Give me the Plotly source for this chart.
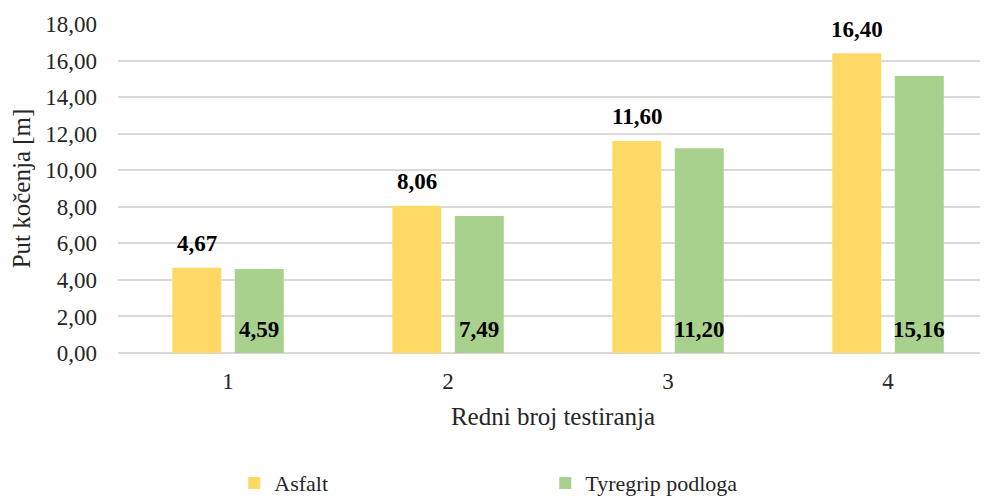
import plotly.graph_objects as go

categories = [1, 2, 3, 4]
asfalt = [4.67, 8.06, 11.60, 16.40]
tyregrip = [4.59, 7.49, 11.20, 15.16]
y_ticks = [0, 2, 4, 6, 8, 10, 12, 14, 16, 18]

YELLOW = "#FFD966"
GREEN = "#A9D18E"
FONT = "'Liberation Serif', 'Times New Roman', serif"

bargap = 0.432
bargroupgap = 0.216
offset = (1 - bargap) / 4

fig = go.Figure()
fig.add_trace(go.Bar(x=categories, y=asfalt, name="Asfalt", marker_color=YELLOW,
                     marker_line_width=0, hoverinfo="skip"))
fig.add_trace(go.Bar(x=categories, y=tyregrip, name="Tyregrip podloga", marker_color=GREEN,
                     marker_line_width=0, hoverinfo="skip"))

label_font = dict(family=FONT, size=23, color="#000000")
for c, v in zip(categories, asfalt):
    fig.add_annotation(x=c - offset, y=v, text="<b>" + f"{v:.2f}".replace(".", ",") + "</b>",
                       showarrow=False, yanchor="middle", yshift=24, font=label_font)
for c, v in zip(categories, tyregrip):
    fig.add_annotation(x=c + offset, y=0, text="<b>" + f"{v:.2f}".replace(".", ",") + "</b>",
                       showarrow=False, yanchor="middle", yshift=24, font=label_font)

fig.update_layout(
    width=988, height=498,
    margin=dict(l=110, r=8, t=16, b=153, autoexpand=False),
    paper_bgcolor="white", plot_bgcolor="white",
    barmode="group", bargap=bargap, bargroupgap=bargroupgap,
    separators=",.",
    font=dict(family=FONT, size=23, color="#262626"),
    showlegend=True,
    legend=dict(orientation="h", xref="container", yref="container",
                x=0.229, xanchor="left", y=0.046, yanchor="middle",
                font=dict(family=FONT, size=22, color="#262626"),
                entrywidth=266, itemwidth=30, traceorder="normal"),
    xaxis=dict(range=[0.5, 4.4545], tickvals=categories, ticktext=[str(c) for c in categories],
               showgrid=False, zeroline=False, showline=False, ticks="",
               ticklabelstandoff=12,
               title=dict(text="Redni broj testiranja", font=dict(family=FONT, size=25, color="#262626"),
                          standoff=14)),
    yaxis=dict(range=[0, 18], tickvals=y_ticks, tickformat=".2f",
               showgrid=True, gridcolor="#D9D9D9", gridwidth=1.5,
               zeroline=True, zerolinecolor="#D9D9D9", zerolinewidth=1.5,
               showline=False, ticks="", ticklabelstandoff=20,
               title=dict(text="Put kočenja [m]", font=dict(family=FONT, size=25, color="#262626"),
                          standoff=8)),
)

fig.write_html("out.html")
